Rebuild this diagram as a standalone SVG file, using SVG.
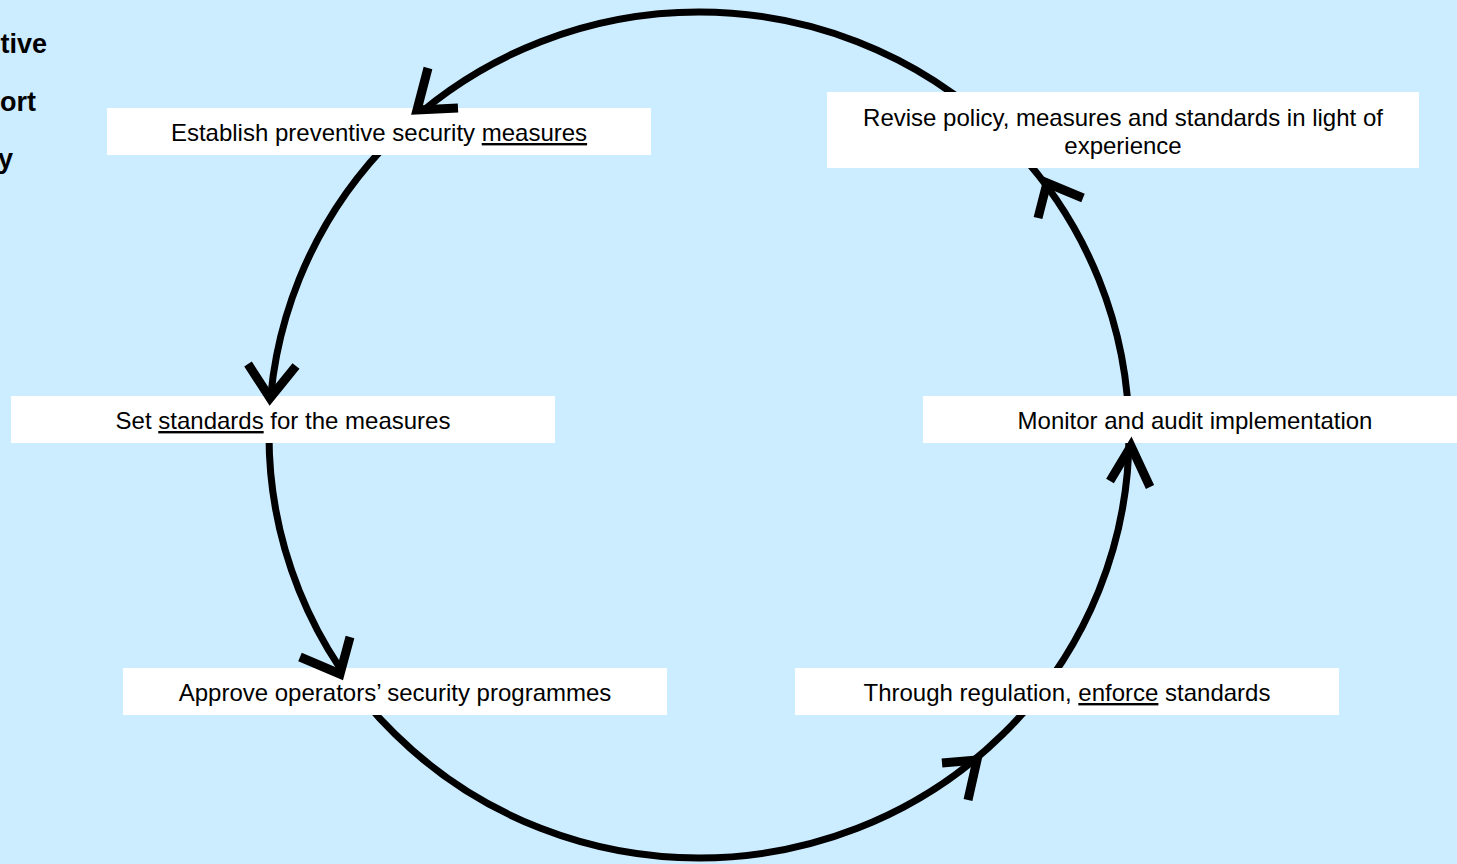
<svg xmlns="http://www.w3.org/2000/svg" width="1457" height="864" viewBox="0 0 1457 864">
<style>
.bg{fill:#CCECFF}
.box{fill:#FFFFFF;stroke:none}
.lbl{font-family:"Liberation Sans",Arial,sans-serif;font-size:24px;fill:#000;text-anchor:middle}
.side{font-family:"Liberation Sans",Arial,sans-serif;font-size:27px;font-weight:bold;fill:#000;text-anchor:end}
.ring{fill:none;stroke:#000;stroke-width:7}
.head{fill:none;stroke:#000;stroke-width:9;stroke-linejoin:miter;stroke-linecap:butt}
.u{text-decoration:underline}
</style>
<rect class="bg" x="0" y="0" width="1457" height="864"/>
<g id="side-text">
<text class="side" x="47" y="53">tive</text>
<text class="side" x="36" y="111">ort</text>
<text class="side" x="13" y="168">y</text>
</g>
<g id="connectors">
<ellipse class="ring" cx="699" cy="435" rx="430" ry="423"/>
</g>
<g id="n-establish">
<rect class="box" x="107" y="108" width="544" height="47"/>
<text class="lbl" x="379" y="141">Establish preventive security <tspan class="u">measures</tspan></text>
</g>
<g id="n-revise">
<rect class="box" x="827" y="92" width="592" height="76"/>
<text class="lbl" x="1123" y="126">Revise policy, measures and standards in light of</text>
<text class="lbl" x="1123" y="154">experience</text>
</g>
<g id="n-standards">
<rect class="box" x="11" y="396" width="544" height="47"/>
<text class="lbl" x="283" y="429">Set <tspan class="u">standards</tspan> for the measures</text>
</g>
<g id="n-monitor">
<rect class="box" x="923" y="396" width="544" height="47"/>
<text class="lbl" x="1195" y="429">Monitor and audit implementation</text>
</g>
<g id="n-approve">
<rect class="box" x="123" y="668" width="544" height="47"/>
<text class="lbl" x="395" y="701">Approve operators’ security programmes</text>
</g>
<g id="n-enforce">
<rect class="box" x="795" y="668" width="544" height="47"/>
<text class="lbl" x="1067" y="701">Through regulation, <tspan class="u">enforce</tspan> standards</text>
</g>
<g id="arrowheads">
<polyline class="head" points="428,68 417,110 458,108"/>
<polyline class="head" points="248,364 270,398 296,366"/>
<polyline class="head" points="350,637 340,674 300,657"/>
<polyline class="head" points="942,763 977,760 968,800"/>
<polyline class="head" points="1110,481 1131,446 1150,487"/>
<polyline class="head" points="1038,218 1047,183 1083,198"/>
</g>
</svg>
